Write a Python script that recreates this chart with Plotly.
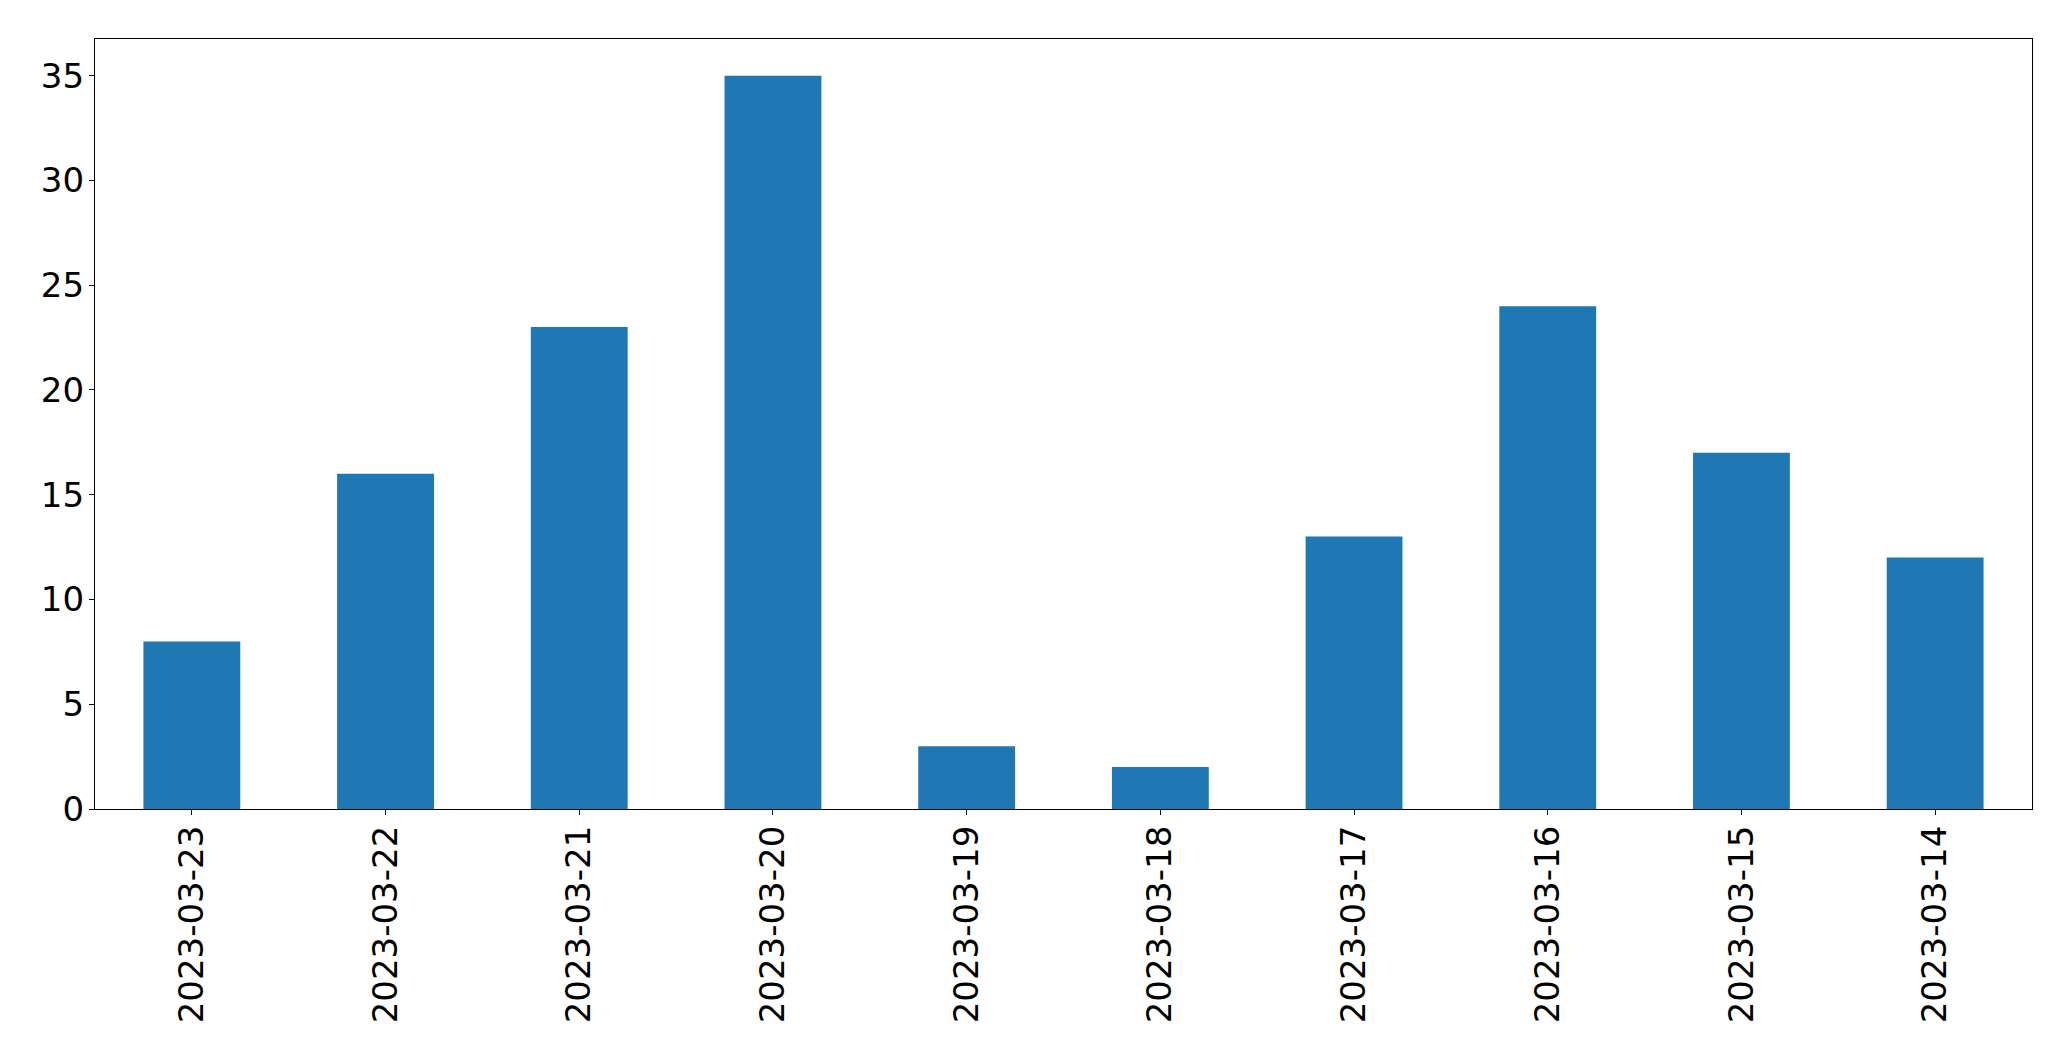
import plotly.graph_objects as go

dates = ["2023-03-23", "2023-03-22", "2023-03-21", "2023-03-20", "2023-03-19",
         "2023-03-18", "2023-03-17", "2023-03-16", "2023-03-15", "2023-03-14"]
counts = [8, 16, 23, 35, 3, 2, 13, 24, 17, 12]
y_ticks = [0, 5, 10, 15, 20, 25, 30, 35]

fig = go.Figure(go.Bar(x=dates, y=counts, width=0.5, marker_color="#1f77b4",
                       marker_line_width=0))

axis_common = dict(showline=True, linecolor="black", linewidth=1.3, mirror=True,
                   ticks="outside", ticklen=5, tickwidth=1.3, tickcolor="black",
                   showgrid=False, zeroline=False,
                   tickfont=dict(family="DejaVu Sans", size=34, color="black"))

fig.update_layout(
    width=2071, height=1061,
    margin=dict(l=94.5, r=39.3, t=39.3, b=252),
    paper_bgcolor="white", plot_bgcolor="white",
    showlegend=False,
    xaxis=dict(type="category", range=[-0.5, 9.5], tickangle=-90,
               ticklabelstandoff=-3, **axis_common),
    yaxis=dict(range=[0, 36.75], tickvals=y_ticks, ticktext=[str(v) for v in y_ticks],
               ticklabelstandoff=-2, **axis_common),
)

fig.write_html("out.html")
